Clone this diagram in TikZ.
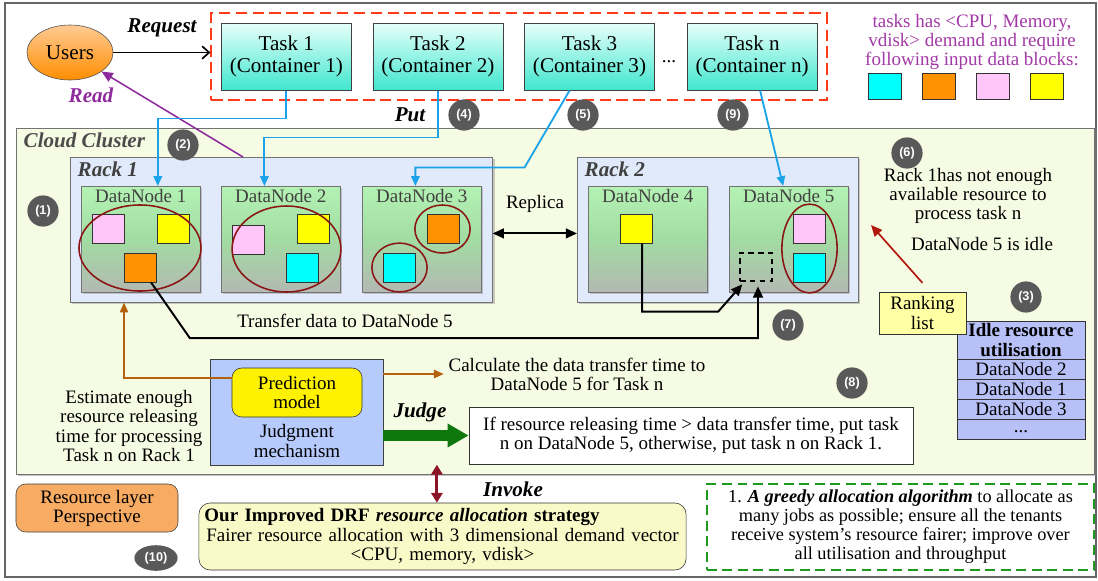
\documentclass[tikz,border=0pt]{standalone}
\usepackage{fontspec}
\setmainfont{Liberation Serif}
\newfontfamily\numfont{Liberation Sans}
\usepackage{tikz}
\usetikzlibrary{positioning,shapes.geometric,arrows.meta,fit,shadows}

\definecolor{putblue}{HTML}{1AA3E8}
\definecolor{readpurple}{HTML}{8E2A9C}
\definecolor{legendpurple}{HTML}{A23AA6}
\definecolor{ringred}{HTML}{8B1414}
\definecolor{rankred}{HTML}{B3180F}
\definecolor{feedbrown}{HTML}{B5600F}
\definecolor{judgegreen}{HTML}{0E780E}
\definecolor{greedygreen}{HTML}{1E9A1E}
\definecolor{taskred}{HTML}{FF3A1A}
\definecolor{invokered}{HTML}{8B1526}
\definecolor{clusterfill}{HTML}{F6FBE4}
\definecolor{rackfill}{HTML}{E1EAFA}
\definecolor{dngreen}{HTML}{B4F2B4}
\definecolor{dnmid}{HTML}{A2DCA2}
\definecolor{dngray}{HTML}{B3B8B3}
\definecolor{dntext}{HTML}{404040}
\definecolor{blkcyan}{HTML}{00FFFF}
\definecolor{blkorange}{HTML}{FF9200}
\definecolor{blkpink}{HTML}{FFC6F9}
\definecolor{blkyellow}{HTML}{FFFF00}
\definecolor{dotgray}{HTML}{595959}
\definecolor{judgefill}{HTML}{B6CAFC}
\definecolor{idlefill}{HTML}{B7C0F7}
\definecolor{rankfill}{HTML}{FFFFA3}
\definecolor{layerfill}{HTML}{F7AB63}
\definecolor{drffill}{HTML}{FAFAC8}
\definecolor{tasktop}{HTML}{E6FFFA}
\definecolor{taskbot}{HTML}{3FE6CE}
\definecolor{userstop}{HTML}{FFCA94}
\definecolor{usersbot}{HTML}{FF8E00}

\newcommand\dgmfont{\fontsize{13.5}{13.6}\selectfont}
\newcommand\bigfont{\fontsize{15}{15.5}\selectfont}

\begin{document}
\begin{tikzpicture}[x=0.025cm, y=-0.025cm,
  font=\dgmfont,
  tasknode/.style={draw=black!75, top color=tasktop, bottom color=taskbot,
    minimum width=3.25cm, minimum height=1.675cm, align=center, inner sep=0pt, font=\bigfont},
  taskframe/.style={draw=taskred, line width=1.4pt, dash pattern=on 8pt off 4pt, inner sep=0.24cm},
  users/.style={ellipse, draw=black!70, top color=userstop, bottom color=usersbot,
    minimum width=2.15cm, minimum height=1.375cm, inner sep=0pt, font=\bigfont},
  cluster/.style={draw=black!55, fill=clusterfill, minimum width=26.95cm, minimum height=8.65cm,
    drop shadow={shadow xshift=1.5pt,shadow yshift=-1.5pt,opacity=0.45}},
  rack/.style={draw=black!55, fill=rackfill, minimum height=3.625cm,
    drop shadow={shadow xshift=1.5pt,shadow yshift=-1.5pt,opacity=0.4}},
  datanode/.style={draw=black!55, top color=dngreen, bottom color=dngray, middle color=dnmid,
    minimum width=2.975cm, minimum height=2.65cm,
    drop shadow={shadow xshift=1.2pt,shadow yshift=-1.2pt,opacity=0.4}},
  dnlabel/.style={anchor=north, inner sep=2pt, text=dntext},
  clusterlabel/.style={font=\bigfont\bfseries\itshape, text=black!70, inner sep=1pt},
  racklabel/.style={font=\bigfont\bfseries\itshape, text=dntext, inner sep=1pt},
  actlabel/.style={font=\bigfont\bfseries\itshape},
  block/.style={draw=black!80, minimum width=0.8cm, minimum height=0.72cm, inner sep=0pt},
  blockring/.style={draw=ringred, line width=1.1pt},
  numdot/.style={circle, fill=dotgray, text=white, minimum size=0.78cm, inner sep=0pt,
    font=\numfont\bfseries\fontsize{9}{9}\selectfont},
  putline/.style={draw=putblue, line width=1.3pt, -{Triangle[length=7pt,width=6pt]}},
  reqline/.style={draw=black, line width=1.2pt, -{Straight Barb[length=5pt,width=9pt]}},
  readline/.style={draw=readpurple, line width=1.1pt, -{Triangle[length=8pt,width=7pt]}},
  replica/.style={draw=black, line width=1.3pt, {Triangle[length=8pt,width=7pt]}-{Triangle[length=8pt,width=7pt]}},
  xfer/.style={draw=black, line width=1.4pt, -{Triangle[length=8pt,width=7pt]}},
  rankline/.style={draw=rankred, line width=1.2pt, -{Triangle[length=8pt,width=7pt]}},
  feedline/.style={draw=feedbrown, line width=1pt, -{Triangle[length=7pt,width=6pt]}},
  judgeline/.style={draw=judgegreen, line width=8pt, -{Triangle[length=15pt,width=16pt]}},
  invokeline/.style={draw=invokered, line width=2pt,
    {Triangle[length=7pt,width=8pt]}-{Triangle[length=7pt,width=8pt]}},
  rankbox/.style={draw=black!80, fill=rankfill, minimum width=2.175cm, minimum height=1.05cm, align=center},
  idlecell/.style={draw=black!80, fill=idlefill, minimum width=3.2cm, minimum height=0.5cm,
    inner sep=0pt, outer sep=0pt, align=center},
  judgebox/.style={draw=black!75, fill=judgefill, minimum width=4.325cm, minimum height=2.65cm},
  predbox/.style={draw=black!80, fill=yellow, rounded corners=7pt, minimum width=3.25cm,
    minimum height=1.225cm, align=center},
  ifbox/.style={draw=black!80, fill=white, minimum width=11.1cm, minimum height=1.425cm, align=center},
  layerbox/.style={draw=black!75, fill=layerfill, rounded corners=7pt, minimum width=4.05cm,
    minimum height=1.2cm, align=center},
  drfbox/.style={draw=black!80, fill=drffill, rounded corners=8pt, minimum width=12.175cm,
    minimum height=1.675cm, text width=11.9cm, inner xsep=2pt, align=center},
  greedybox/.style={draw=greedygreen, line width=1.4pt, dash pattern=on 7pt off 4pt,
    minimum width=9.675cm, minimum height=2.15cm, align=center, font=\fontsize{13}{13.5}\selectfont}]

\useasboundingbox (0,0) rectangle (1098,580);
\draw[black!60, line width=0.8pt] (5,3) rectangle (1096,577);

% cluster and racks
\node[cluster, anchor=north west] (cloud) at (16,128) {};
\node[clusterlabel, anchor=west] (cloudlbl) at (22,140) {Cloud Cluster};
\node[rack, minimum width=10.55cm, anchor=north west] (rack1) at (70,157) {};
\node[rack, minimum width=7.025cm, anchor=north west] (rack2) at (577,157) {};
\node[racklabel, anchor=west] (rack1lbl) at (76,169) {Rack 1};
\node[racklabel, anchor=west] (rack2lbl) at (583,169) {Rack 2};

\foreach \n/\x in {1/81,2/221,3/362,4/588,5/729}
  \node[datanode, anchor=north west, label={[dnlabel]north:DataNode \n}] (dn\n) at (\x,186) {};

% data blocks
\node[block, fill=blkpink] (p1) at (108,229) {};
\node[block, fill=blkyellow] (y1) at (173,229) {};
\node[block, fill=blkorange] (o1) at (140.5,267.5) {};
\node[block, fill=blkpink] (p2) at (248,239.5) {};
\node[block, fill=blkyellow] (y2) at (313,229) {};
\node[block, fill=blkcyan] (c2) at (302,267.5) {};
\node[block, fill=blkorange] (o3) at (443,228.5) {};
\node[block, fill=blkcyan] (c3) at (399.5,267.5) {};
\node[block, fill=blkyellow] (y4) at (636.5,229) {};
\node[block, fill=blkpink] (p5) at (809.5,229) {};
\node[block, fill=blkcyan] (c5) at (809.5,267.5) {};
\node[block, draw=black, line width=1.3pt, dash pattern=on 4pt off 3pt] (d5) at (756,267) {};

\draw[blockring] (140,248) ellipse [x radius=1.525cm, y radius=1.075cm];
\draw[blockring] (286.5,249) ellipse [x radius=1.36cm, y radius=1.075cm];
\draw[blockring] (442.5,229) ellipse [x radius=0.69cm, y radius=0.6cm];
\draw[blockring] (399.5,267.5) ellipse [x radius=0.69cm, y radius=0.61cm];
\draw[blockring] (809.5,248.5) ellipse [x radius=0.69cm, y radius=1.11cm];

% tasks
\node[tasknode, anchor=north west] (task1) at (221,23) {Task 1\\(Container 1)};
\node[tasknode, right=0.525cm of task1] (task2) {Task 2\\(Container 2)};
\node[tasknode, right=0.525cm of task2] (task3) {Task 3\\(Container 3)};
\node[tasknode, right=0.8cm of task3] (taskn) {Task n\\(Container n)};
\node (dots) at (669,62) {...};
\node[taskframe, fit=(task1)(taskn)] (tasks) {};

\node[users] (users) at (70,52.5) {Users};
\draw[reqline] (users.east) -- (users.east -| tasks.west);
\node[actlabel] (reqlbl) at (162,28) {Request};

\coordinate (readfoot) at (243,157);
\draw[readline] (readfoot) -- (users);
\node[actlabel, text=readpurple] (readlbl) at (91,95) {Read};

% put tasks on datanodes
\draw[putline] (task1.south) -- ++(0,28) -| ([xshift=0.425cm]dn1.north);
\draw[putline] (task2.south) -- ++(0,47) -| ([xshift=-0.41cm]dn2.north);
\draw[putline] ([xshift=-0.5cm]task3.south) -- ++(-45,77) -| ([xshift=-0.16cm]dn3.north);
\draw[putline] ([xshift=0.2cm]taskn.south) -- ([xshift=-0.14cm]dn5.north);
\node[actlabel] (putlbl) at (410,115) {Put};

\draw[replica] ([yshift=-0.09cm]rack1.east) -- ([yshift=-0.09cm]rack2.west);
\node (replicalbl) at (535,204) {Replica};

\draw[xfer] ([xshift=0.26cm]o1.south) -- ++(39,56) -| ([xshift=0.05cm,yshift=-0.1cm]d5.south);
\draw[xfer] ([xshift=0.14cm]y4.south) -- ++(0,68) -- ++(76,0) -- ([xshift=0.08cm,yshift=-0.05cm]d5.south west);
\node (xferlbl) at (345,321) {Transfer data to DataNode 5};

% legend
\node[text=legendpurple, align=center] (legend) at (972,42)
  {tasks has <CPU, Memory,\\vdisk> demand and require\\following input data blocks:};
\foreach \c/\x in {blkcyan/884.5,blkorange/938.5,blkpink/993,blkyellow/1047}
  \node[block, fill=\c, minimum width=0.82cm, minimum height=0.65cm] (key\c) at (\x,86) {};

% steps
\foreach \t/\x/\y in {1/43/211,2/183/145,3/1026/297,4/464/115,5/583/115,6/907/153,7/788/325,8/852/383,9/733/115}
  \node[numdot] (num\t) at (\x,\y) {(\t)};
\node[numdot, ellipse, minimum width=1.08cm, minimum height=0.64cm] (num10) at (156,558) {(10)};

% ranking
\node[align=center] (racknote) at (968,196) {Rack 1has not enough\\available resource to\\process task n};
\node (idlenote) at (982,244) {DataNode 5 is idle};

\node[idlecell, minimum height=0.95cm, font=\dgmfont\bfseries] (idlehead) at (1021,340) {Idle resource\\utilisation};
\node[idlecell, below=0pt of idlehead] (idle1) {DataNode 2};
\node[idlecell, below=0pt of idle1] (idle2) {DataNode 1};
\node[idlecell, below=0pt of idle2] (idle3) {DataNode 3};
\node[idlecell, below=0pt of idle3, text depth=0pt, text height=1.2ex] (idle4) {...};

\node[rankbox] (rank) at (922.5,313) {Ranking\\list};
\coordinate (rankaim) at (871,225);
\draw[rankline] ([yshift=0.22cm]rank.north) -- (rankaim);

% judgment
\node[judgebox] (judge) at (296.5,412) {};
\node[predbox] (pred) at (297,392.5) {Prediction\\model};
\node[align=center] (judgetxt) at (297,441) {Judgment\\mechanism};
\draw[feedline] ([yshift=0.36cm]pred.west) -| ([xshift=1.35cm]rack1.south west);
\node[align=center] (calc) at (577,374) {Calculate the data transfer time to\\DataNode 5 for Task n};
\draw[feedline] (judge.east |- calc.west) -- (calc.west);
\node[align=center] (estimate) at (129,426) {Estimate enough\\resource releasing\\time for processing\\Task n on Rack 1};
\node[actlabel] (judgelbl) at (420,412) {Judge};
\node[ifbox] (ifbox) at (691,435.5) {If resource releasing time > data transfer time, put task\\n on DataNode 5, otherwise, put task n on Rack 1.};
\draw[judgeline] (judge.east |- ifbox.west) -- (ifbox.west);

% strategy
\node[layerbox] (layer) at (97,508) {Resource layer\\Perspective};
\node[drfbox] (drf) at (442.5,536.5)
  {\textbf{Our Improved DRF \textit{resource allocation} strategy}\hfill\null\\
   Fairer resource allocation with 3 dimensional demand vector\\<CPU, memory, vdisk>};
\draw[invokeline] ([xshift=-0.14cm]drf.north) -- ++(0,-38);
\node[actlabel] (invokelbl) at (513,489) {Invoke};
\node[greedybox] (greedy) at (900.5,527)
  {1. \textbf{\textit{A greedy allocation algorithm}} to allocate as\\many jobs as possible; ensure all the tenants\\receive system's resource fairer; improve over\\all utilisation and throughput};

\end{tikzpicture}
\end{document}
